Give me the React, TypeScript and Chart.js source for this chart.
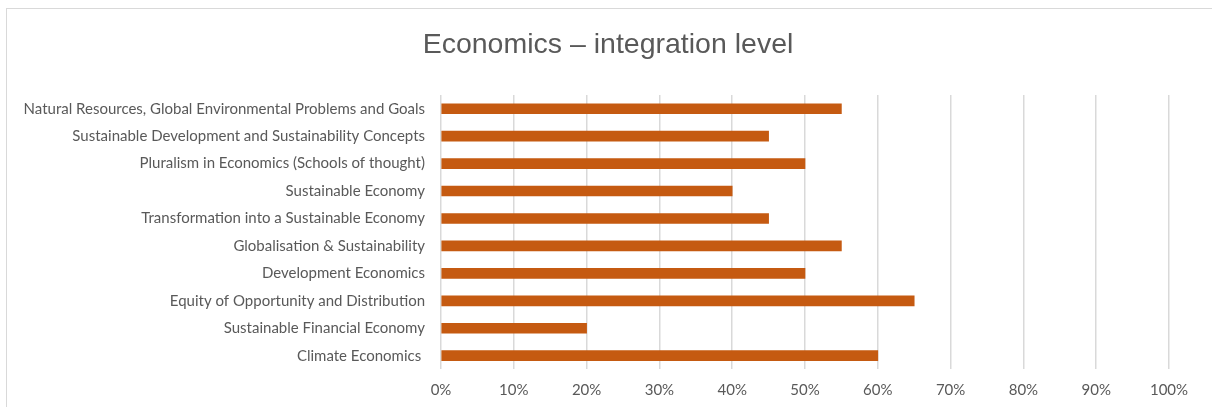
import React, { useEffect, useRef } from "react";
import { Chart, registerables } from "chart.js";

Chart.register(...registerables);

const TITLE = "Economics – integration level";
const categories: string[] = [
  "Natural Resources, Global Environmental Problems and Goals",
  "Sustainable Development and Sustainability Concepts",
  "Pluralism in Economics (Schools of thought)",
  "Sustainable Economy",
  "Transformation into a Sustainable Economy",
  "Globalisation & Sustainability",
  "Development Economics",
  "Equity of Opportunity and Distribution",
  "Sustainable Financial Economy",
  "Climate Economics ",
];
const integrationLevel: number[] = [55, 45, 50, 40, 45, 55, 50, 65, 20, 60];
const xMin = 0;
const xMax = 100;
const xStep = 10;

const TEXT = "#595959";
const BAR = "#C55A11";
const GRID = "#d9d9d9";
const LABEL_FONT = "Lato";

export default function App() {
  const ref = useRef<HTMLCanvasElement | null>(null);

  useEffect(() => {
    if (!ref.current) return;
    const chart = new Chart(ref.current, {
      type: "bar",
      data: {
        labels: categories,
        datasets: [
          {
            label: "Integration level",
            data: integrationLevel,
            backgroundColor: BAR,
            borderWidth: 0,
            barThickness: 10,
          },
        ],
      },
      options: {
        indexAxis: "y",
        animation: false,
        responsive: false,
        devicePixelRatio: 1,
        layout: { padding: { left: 4, right: 0, top: 0, bottom: 0 } },
        plugins: {
          legend: { display: false },
          tooltip: { enabled: false },
          title: {
            display: true,
            text: TITLE,
            color: TEXT,
            font: { family: "Liberation Sans", size: 28.5, weight: "normal", lineHeight: 1.2 },
            padding: { top: 28.4, bottom: 32.4 },
          },
        },
        scales: {
          x: {
            type: "linear",
            position: "bottom",
            min: xMin,
            max: xMax,
            ticks: {
              stepSize: xStep,
              color: TEXT,
              padding: 12,
              font: { family: LABEL_FONT, size: 15 },
              callback: (v: any) => `${v}%`,
            },
            grid: { color: GRID, lineWidth: 1.5, drawTicks: false },
            border: { display: false },
            afterFit: (s: any) => {
              s.height = 37.6;
            },
          },
          y: {
            type: "category",
            position: "left",
            ticks: {
              color: TEXT,
              padding: 16,
              font: { family: LABEL_FONT, size: 15 },
              autoSkip: false,
            },
            grid: { display: false, drawTicks: false },
            border: { display: false },
            afterFit: (s: any) => {
              s.width = 437;
            },
          },
          yRight: {
            type: "linear",
            position: "right",
            display: true,
            ticks: { display: false },
            grid: { display: false, drawTicks: false },
            border: { display: false },
            afterFit: (s: any) => {
              s.width = 43;
            },
          },
        },
      } as any,
    });
    return () => chart.destroy();
  }, []);

  return (
    <div
      style={{
        position: "fixed",
        left: 0,
        top: 0,
        width: 1212,
        height: 407,
        overflow: "hidden",
        background: "#ffffff",
      }}
    >
      <div
        style={{
          position: "absolute",
          left: 6,
          top: 8,
          width: 1400,
          height: 600,
          border: "1px solid #d9d9d9",
          boxSizing: "border-box",
        }}
      />
      <canvas
        ref={ref}
        width={1212}
        height={407}
        style={{ position: "absolute", left: 0, top: 0, width: 1212, height: 407 }}
      />
    </div>
  );
}
